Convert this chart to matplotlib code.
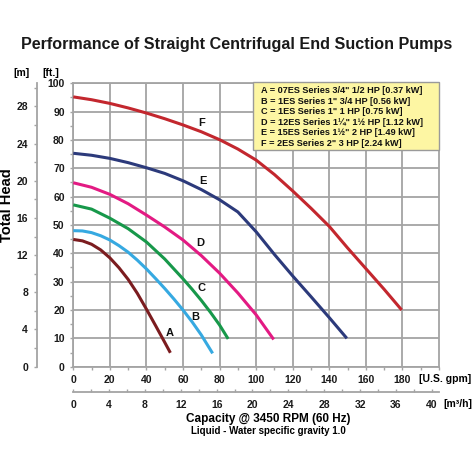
import matplotlib
matplotlib.use("Agg")
import matplotlib.pyplot as plt
from matplotlib.patches import Rectangle
from matplotlib.ticker import MultipleLocator

plt.rcParams['font.family'] = ['Liberation Sans', 'DejaVu Sans']
plt.rcParams['font.weight'] = 'bold'

# pump curves: flow [U.S. gpm] vs head [ft]
a_gpm = [0, 5, 10, 15, 20, 25, 30, 35, 40, 45, 50, 53.1]
a_ft = [44.9, 44.4, 43.2, 41.2, 38.4, 34.9, 30.8, 25.9, 20.3, 14.5, 8.6, 4.9]
b_gpm = [0, 5, 10, 15, 20, 25, 30, 35, 40, 45, 50, 55, 60, 65, 70, 76.2]
b_ft = [48, 47.9, 47.3, 46.2, 44.7, 42.7, 40.4, 37.6, 34.5, 31.1, 27.6, 23.9, 20, 15.8, 11.2, 4.7]
c_gpm = [0, 10, 20, 30, 40, 50, 60, 65, 70, 75, 80, 84.7]
c_ft = [57.1, 55.6, 52.4, 48.7, 44.0, 38.0, 31.0, 27.3, 23.4, 19.2, 14.7, 9.8]
d_gpm = [0, 10, 20, 30, 40, 50, 60, 70, 80, 90, 100, 109.6]
d_ft = [64.9, 63.3, 60.8, 57.5, 53.5, 49.3, 44.7, 39.2, 33.0, 26.0, 18.3, 9.6]
e_gpm = [0, 10, 20, 30, 40, 50, 60, 70, 80, 90, 100, 110, 120, 130, 140, 149.6]
e_ft = [75.3, 74.6, 73.5, 72.0, 70.2, 68.2, 65.6, 62.5, 58.9, 54.6, 47.6, 39.6, 32.0, 24.7, 17.3, 10]
f_gpm = [0, 10, 20, 30, 40, 50, 60, 70, 80, 90, 100, 110, 120, 130, 140, 150, 160, 170, 179.6]
f_ft = [95.2, 94.2, 92.9, 91.3, 89.5, 87.5, 85.3, 82.9, 80.1, 76.8, 72.9, 67.8, 62.0, 55.9,
        49.5, 41.9, 34.6, 27.3, 20]

names = ['A', 'B', 'C', 'D', 'E', 'F']
colors = ['#7b1c1f', '#36a9e1', '#17984a', '#e31a83', '#2c3a7b', '#c3272e']
label_pos = [(52.5, 12), (66.9, 17.4), (70.2, 27.7), (69.6, 43.5), (70.7, 65.6), (70.2, 85.9)]

legend_lines = [
    'A = 07ES Series 3/4" 1/2 HP [0.37 kW]',
    'B = 1ES Series 1" 3/4 HP [0.56 kW]',
    'C = 1ES Series 1" 1 HP [0.75 kW]',
    'D = 12ES Series 1\u00bc" 1\u00bd HP [1.12 kW]',
    'E = 15ES Series 1\u00bd" 2 HP [1.49 kW]',
    'F = 2ES Series 2" 3 HP [2.24 kW]',
]

gray = '#a4a4a4'
W = 474.0


def fx(px):
    return px / W


def fy(py):
    return 1 - py / W


fig = plt.figure(figsize=(4.74, 4.74), dpi=100)
ax = fig.add_axes([0.1546, 0.2264, 0.7716, 0.5979])

curves = [(a_gpm, a_ft), (b_gpm, b_ft), (c_gpm, c_ft),
          (d_gpm, d_ft), (e_gpm, e_ft), (f_gpm, f_ft)]
for (gpm, ft), name, col, pos in zip(curves, names, colors, label_pos):
    ax.plot(gpm, ft, color=col, lw=2.2, solid_capstyle='butt', zorder=3)
    ax.text(pos[0], pos[1], name, fontsize=8, ha='center', va='center',
            color='#111111', zorder=4)

ax.set_xlim(0, 200)
ax.set_ylim(0, 100)
ax.set_xticks(range(0, 181, 20))
ax.xaxis.set_minor_locator(MultipleLocator(10))
ax.yaxis.set_major_locator(MultipleLocator(10))
ax.yaxis.set_minor_locator(MultipleLocator(5))
ax.grid(which='major', color=gray, lw=1.3)
ax.set_axisbelow(True)
for s in ax.spines.values():
    s.set_color(gray)
    s.set_linewidth(1.3)
ax.tick_params(which='both', direction='out', length=2.2, width=1,
               color=gray, labelsize=7.5, pad=4, labelcolor='#1a1a1a')

# m3/h axis below
secx = ax.secondary_xaxis(-0.089, functions=(lambda x: x / 4.9, lambda x: x * 4.9))
secx.set_xticks(range(0, 41, 4))
secx.xaxis.set_minor_locator(MultipleLocator(2))
secx.tick_params(which='both', direction='in', length=2.5, width=1,
                 color=gray, labelsize=7.5, pad=6, labelcolor='#1a1a1a')
secx.spines['bottom'].set_color(gray)
secx.spines['bottom'].set_linewidth(1.3)

# metres axis left
secy = ax.secondary_yaxis(-0.1, functions=(lambda y: y * 0.3048, lambda y: y / 0.3048))
secy.set_yticks(range(0, 29, 4))
secy.yaxis.set_minor_locator(MultipleLocator(2))
secy.tick_params(which='both', direction='out', length=2.2, width=1,
                 color=gray, labelsize=7.5, pad=4, labelcolor='#1a1a1a')
secy.spines['left'].set_color(gray)
secy.spines['left'].set_linewidth(1.3)

# legend box
fig.add_artist(Rectangle((fx(252.7), fy(150)), fx(439.3 - 252.7), fx(150 - 82.3),
                         transform=fig.transFigure, facecolor='#fdf6a3',
                         edgecolor='#9a9a9a', lw=1, zorder=5))
for i, line in enumerate(legend_lines):
    fig.text(fx(260.7), fy(90.7 + i * 10.5), line, fontsize=6.6,
             ha='left', va='center', color='#111111', zorder=6)

# titles and unit labels
fig.text(fx(237), fy(44), 'Performance of Straight Centrifugal End Suction Pumps',
         fontsize=11.6, ha='center', va='center', color='#1a1a1a')
fig.text(fx(22), fy(72.7), '[m]', fontsize=7.5, ha='center', va='center')
fig.text(fx(51), fy(72.7), '[ft.]', fontsize=7.5, ha='center', va='center')
fig.text(fx(7), fy(205), 'Total Head', fontsize=10.5, rotation=90,
         ha='center', va='center')
fig.text(fx(419), fy(379), '[U.S. gpm]', fontsize=7.5, ha='left', va='center')
fig.text(fx(443), fy(404), '[m\u00b3/h]', fontsize=7.5, ha='left', va='center')
fig.text(fx(268), fy(419), 'Capacity @ 3450 RPM (60 Hz)', fontsize=8.5,
         ha='center', va='center')
fig.text(fx(268), fy(431), 'Liquid - Water specific gravity 1.0', fontsize=7,
         ha='center', va='center')

fig.savefig('out.png', dpi=100)
